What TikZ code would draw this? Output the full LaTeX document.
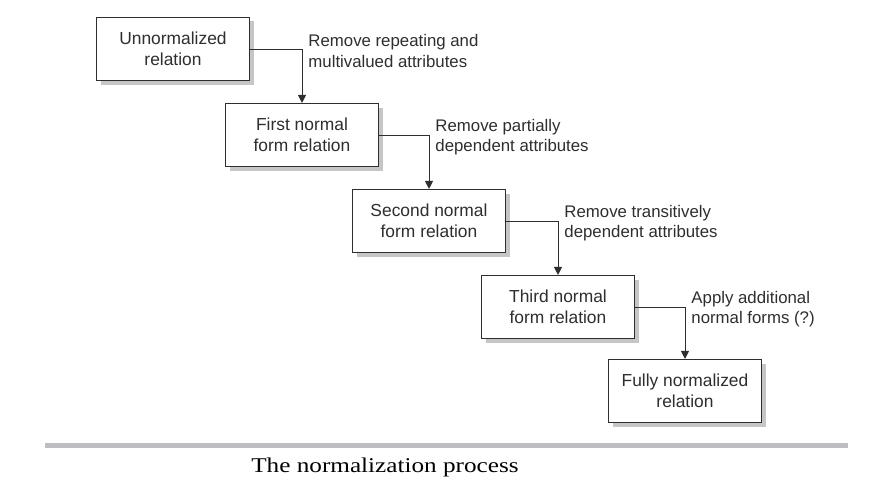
\documentclass[tikz,border=0pt]{standalone}
\usepackage{fontspec}
\setmainfont{Liberation Sans}
\newfontfamily\captionfont{Liberation Serif}
\usetikzlibrary{arrows.meta,shadows}
\definecolor{BoxLine}{HTML}{2E2E2E}
\definecolor{RuleGray}{HTML}{BEBEC2}
\tikzset{
  formbox/.style={draw=BoxLine, line width=1.1pt, fill=white, align=center,
    minimum width=153pt, minimum height=63pt, inner sep=2pt,
    font=\fontsize{17.4}{21}\selectfont, text=BoxLine,
    drop shadow={shadow xshift=4pt, shadow yshift=-4pt, fill=gray!45, opacity=1}},
  link/.style={draw=BoxLine, line width=0.9pt, -{Triangle[length=8pt,width=8pt]}},
  steplabel/.style={anchor=west, xshift=6pt, yshift=-2pt, align=left, inner sep=0pt,
    font=\fontsize{16.8}{20.5}\selectfont, text=BoxLine}
}
\begin{document}
\begin{tikzpicture}[x=1pt, y=-1pt]
    \useasboundingbox (0,0) rectangle (883,487);

    % Boxes
    \node[formbox] (unf) at (173,49)  {Unnormalized\\relation};
    \node[formbox] (nf1) at (302,135) {First normal\\form relation};
    \node[formbox] (nf2) at (429,221) {Second normal\\form relation};
    \node[formbox] (nf3) at (558,307) {Third normal\\form relation};
    \node[formbox] (full) at (685,391) {Fully normalized\\relation};

    % Steps
    \draw[link] (unf.east) -| node[pos=0.5, steplabel] {Remove repeating and\\multivalued attributes} (nf1.north);
    \draw[link] (nf1.east) -| node[pos=0.5, steplabel] {Remove partially\\dependent attributes} (nf2.north);
    \draw[link] (nf2.east) -| node[pos=0.5, steplabel] {Remove transitively\\dependent attributes} (nf3.north);
    \draw[link] (nf3.east) -| node[pos=0.5, steplabel] {Apply additional\\normal forms (?)} (full.north);

    % Rule and caption
    \draw[RuleGray, line width=5pt] (45,445) coordinate (ruleL) -- (848,445) coordinate (ruleR);
    \node[font=\captionfont\fontsize{21}{24}\selectfont, xscale=1.2, transform shape] (cap) at (385,467) {The normalization process};

\end{tikzpicture}
\end{document}
